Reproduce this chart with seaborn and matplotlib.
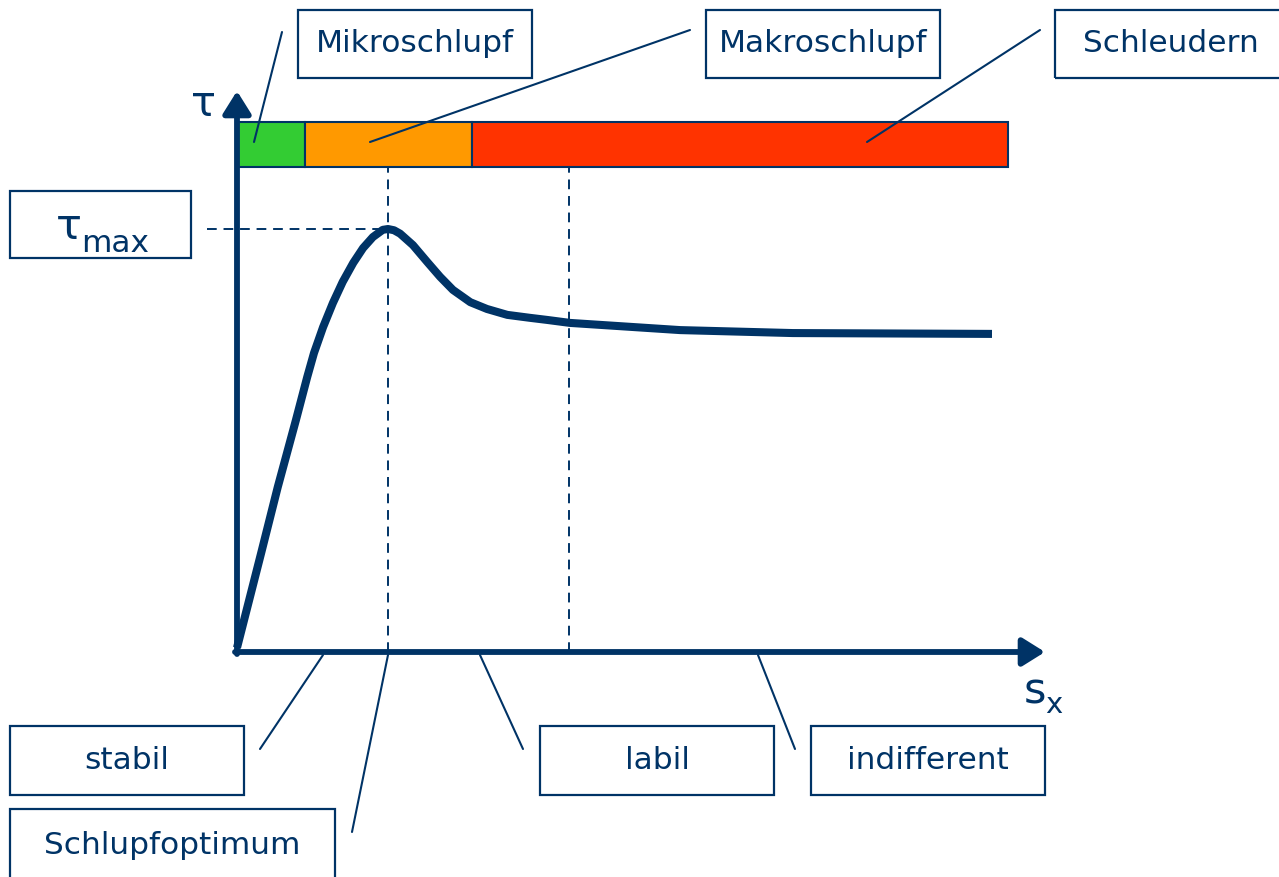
import matplotlib.pyplot as plt
from matplotlib.patches import Rectangle
import seaborn as sns
import pandas as pd

# curve: slip s_x (0..100) and adhesion tau (tau_max = 1)
slip = [0, 3.2, 5.4, 7.8, 9.3, 10.2, 11.4, 12.7, 14.0, 15.4, 16.7, 18.0, 19.3,
        20.0, 20.8, 21.6, 23.3, 25.2, 26.9, 28.6, 30.9, 33.1, 35.8, 38.8, 41.1,
        44.1, 58.7, 73.6, 100.0]
tau = [0.01, 0.234, 0.39, 0.548, 0.65, 0.707, 0.768, 0.825, 0.875, 0.92, 0.955,
       0.981, 0.998, 1.0, 0.997, 0.989, 0.962, 0.922, 0.887, 0.856, 0.827,
       0.811, 0.797, 0.79, 0.785, 0.778, 0.761, 0.754, 0.752]

zone_names = ["Mikroschlupf", "Makroschlupf", "Schleudern"]
zone_edges = [0, 9.0, 31.1, 102.1]
zone_colors = ["#33cc33", "#ff9900", "#ff3300"]

s_opt = 20.0      # Schlupfoptimum
s_labil = 44.0    # end of the labile region
tau_max = 1.0

NAVY = "#003366"
FONT = 22.5

# pixel layout of the slide -> data coords
X0, Y0, SX, SY = 237.0, 652.0, 7.55, 423.0
W, H = 1279, 877


def px(x, y):
    return (x - X0) / SX, (Y0 - y) / SY


def box(ax, x1, y1, x2, y2, label=None, cx=None, cy=None):
    a = px(x1, y2)
    b = px(x2, y1)
    ax.add_patch(Rectangle(a, b[0] - a[0], b[1] - a[1], fill=False,
                           edgecolor=NAVY, linewidth=1.6, zorder=3))
    if label is not None:
        tx, ty = px(cx if cx is not None else (x1 + x2) / 2,
                    cy if cy is not None else (y1 + y2) / 2)
        ax.text(tx, ty, label, color=NAVY, fontsize=FONT, ha="center",
                va="center", zorder=4)


def leader(ax, p1, p2):
    a, b = px(*p1), px(*p2)
    ax.plot([a[0], b[0]], [a[1], b[1]], color=NAVY, lw=1.5, zorder=5)


sns.set_theme(style="white")
plt.rcParams['font.family'] = ['DejaVu Sans']

fig = plt.figure(figsize=(W / 100, H / 100), dpi=100)
ax = fig.add_axes([0, 0, 1, 1])
ax.set_xlim(px(0, 0)[0], px(W, 0)[0])
ax.set_ylim(px(0, H)[1], px(0, 0)[1])
ax.axis("off")

# slip zone bar
bar_lo, bar_hi = px(0, 167)[1], px(0, 122)[1]
for i, name in enumerate(zone_names):
    ax.barh((bar_lo + bar_hi) / 2, zone_edges[i + 1] - zone_edges[i],
            left=zone_edges[i], height=bar_hi - bar_lo, color=zone_colors[i],
            edgecolor=NAVY, linewidth=1.5, zorder=2)

# dashed helper lines
dash = dict(color=NAVY, lw=1.4, linestyles=(0, (5, 3.5)), zorder=1)
ax.vlines([s_opt, s_labil], 0, bar_lo, **dash)
ax.hlines(tau_max, px(207, 0)[0], s_opt, **dash)

# axes with arrows
arr = dict(arrowstyle="-|>,head_length=0.4,head_width=0.25", lw=4.2,
           color=NAVY, mutation_scale=34, shrinkA=0, shrinkB=0)
ax.annotate("", xy=px(237, 91), xytext=px(237, 654), arrowprops=arr, zorder=6)
ax.annotate("", xy=px(1045, 652), xytext=px(235, 652), arrowprops=arr, zorder=6)

# adhesion curve
df = pd.DataFrame({"s": slip, "tau": tau})
sns.lineplot(data=df, x="s", y="tau", ax=ax, color=NAVY, lw=5.8,
             solid_capstyle="butt", solid_joinstyle="round", zorder=7,
             sort=False)

# axis labels
ax.text(*px(203, 116), "τ", color=NAVY, fontsize=30, ha="center", va="baseline")
ax.text(*px(1035, 703), "s", color=NAVY, fontsize=31, ha="center", va="baseline")
ax.text(*px(1054, 713), "x", color=NAVY, fontsize=21, ha="center", va="baseline")

# tau_max box
box(ax, 10, 191, 191, 258)
ax.text(*px(69, 239), "τ", color=NAVY, fontsize=31, ha="center", va="baseline")
ax.text(*px(115, 252), "max", color=NAVY, fontsize=FONT, ha="center", va="baseline")

# zone boxes
box(ax, 298, 10, 532, 78, "Mikroschlupf")
box(ax, 706, 10, 940, 78, "Makroschlupf")
box(ax, 1055, 10, 1295, 78, "Schleudern", cx=1171)
leader(ax, (282, 32), (254, 142))
leader(ax, (690, 30), (370, 142))
leader(ax, (1040, 30), (867, 142))

# stability boxes
box(ax, 10, 726, 244, 795, "stabil")
box(ax, 10, 809, 335, 890, "Schlupfoptimum", cy=846)
box(ax, 540, 726, 774, 795, "labil")
box(ax, 811, 726, 1045, 795, "indifferent")
leader(ax, (260, 749), (323, 655))
leader(ax, (352, 832), (388, 655))
leader(ax, (523, 749), (480, 655))
leader(ax, (795, 749), (758, 655))

fig.savefig("out.png", dpi=100)
